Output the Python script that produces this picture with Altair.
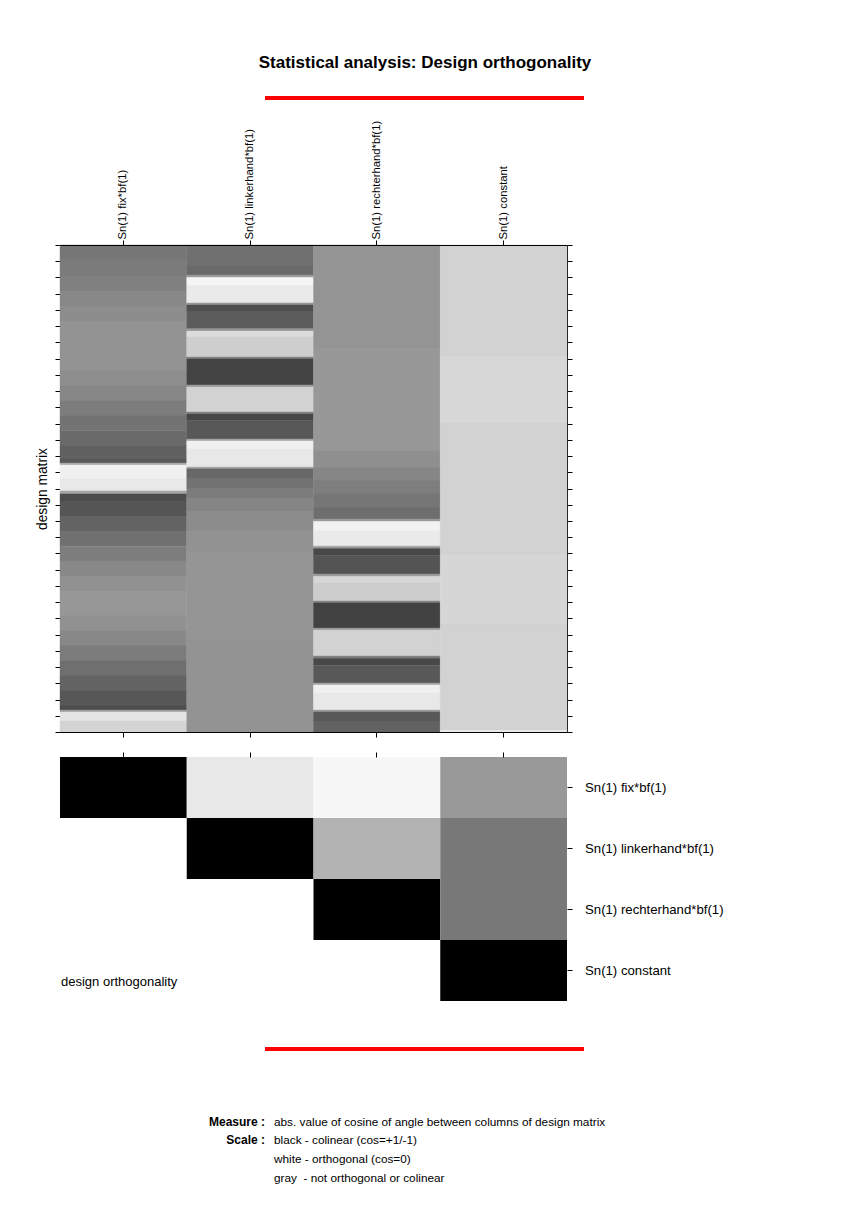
import altair as alt
import pandas as pd

FONT = "Liberation Sans, Arial"

title_text = "Statistical analysis: Design orthogonality"
columns = ["Sn(1) fix*bf(1)", "Sn(1) linkerhand*bf(1)",
           "Sn(1) rechterhand*bf(1)", "Sn(1) constant"]
n_scans = 180
scan_ticks = list(range(0, 181, 6))

# design matrix columns: run boundaries (scans) and gray levels (0-255)
fix_edges = [0, 5.2, 11.5, 17.0, 22.5, 28.1, 46.6, 52.1, 57.7, 63.2, 68.7, 74.3,
             79.1, 80.6, 81.3, 86.5, 90.9, 92.0, 94.6, 100.2, 105.7, 111.3, 116.8,
             122.3, 127.9, 137.1, 142.7, 148.2, 153.8, 159.3, 164.8, 170.4, 171.9,
             172.6, 175.9, 180]
fix_gray = [118, 123, 128, 136, 141, 147, 142, 135, 125, 115, 106, 97, 88, 170,
            240, 232, 165, 76, 85, 99, 112, 125, 136, 145, 151, 145, 136, 124, 111,
            99, 87, 77, 160, 228, 212]

link_edges = [0, 7.8, 11.1, 12.0, 15.0, 21.4, 22.2, 24.4, 31.0, 31.8, 34.0, 41.4,
              42.1, 51.7, 52.5, 61.7, 62.5, 65.0, 71.7, 72.4, 75.4, 82.1, 82.8, 86.1,
              89.8, 93.5, 98.3, 105.7, 113.1, 146.4, 180]
link_gray = [112, 106, 155, 245, 234, 150, 78, 92, 150, 220, 206, 130, 68, 155, 210,
             130, 70, 88, 165, 240, 232, 150, 104, 114, 124, 133, 140, 146, 149, 147]

rech_edges = [0, 38.1, 76.1, 82.4, 87.2, 92.0, 97.2, 101.3, 102.2, 105.7, 111.3,
              112.2, 114.9, 121.6, 122.5, 124.9, 131.6, 132.3, 141.6, 142.3, 151.9,
              152.7, 155.3, 161.9, 162.6, 165.6, 171.9, 172.6, 175.9, 180]
rech_gray = [148, 152, 143, 134, 126, 118, 110, 155, 242, 234, 150, 72, 84, 155, 215,
             205, 130, 66, 155, 210, 130, 72, 88, 165, 240, 232, 155, 88, 98]

const_edges = [0, 41.0, 65.8, 114.9, 140.1, 179.4, 180]
const_gray = [210, 215, 210, 214, 210, 236]

# orthogonality (abs. cosine) upper triangle
ortho_row = [0, 0, 0, 0, 1, 1, 1, 2, 2, 3]
ortho_col = [0, 1, 2, 3, 1, 2, 3, 2, 3, 3]
ortho_abs_cos = [1.0, 0.09, 0.03, 0.40, 1.0, 0.30, 0.53, 1.0, 0.53, 1.0]

measure_labels = ["Measure :", "Scale :"]
measure_lines = ["abs. value of cosine of angle between columns of design matrix",
                 "black - colinear (cos=+1/-1)",
                 "white - orthogonal (cos=0)",
                 "gray\u00a0 - not orthogonal or colinear"]
ortho_caption = "design orthogonality"

# ---- build tables
rows = []
for name, edges, grays in zip(columns,
                              [fix_edges, link_edges, rech_edges, const_edges],
                              [fix_gray, link_gray, rech_gray, const_gray]):
    for i, g in enumerate(grays):
        rows.append({"column": name, "y0": edges[i], "y1": edges[i + 1],
                     "color": "#%02x%02x%02x" % (g, g, g)})
dm = pd.DataFrame(rows)

od = pd.DataFrame({"row": [columns[i] for i in ortho_row],
                   "col": [columns[i] for i in ortho_col],
                   "abs_cos": ortho_abs_cos})

W, H = 507, 487
HB = 244

xscale = alt.Scale(domain=columns, paddingInner=0, paddingOuter=0)
yscale = alt.Scale(domain=[0, n_scans], reverse=True, nice=False, zero=False)

ax_common = dict(tickColor="black", domainColor="black", labelColor="black",
                 titleColor="black", grid=False, tickWidth=1, domainWidth=1)

rects = alt.Chart(dm).mark_rect(strokeWidth=0.4).encode(
    x=alt.X("column:N", scale=xscale, sort=columns,
            axis=alt.Axis(orient="top", title=None, labelAngle=270, labelAlign="left",
                          labelBaseline="middle", labelFont=FONT, labelFontSize=11.3,
                          labelPadding=1, tickSize=5, **ax_common)),
    y=alt.Y("y0:Q", scale=yscale,
            axis=alt.Axis(orient="left", title="design matrix", values=scan_ticks,
                          labels=False, tickSize=5, titleFont=FONT, titleFontSize=13.8,
                          titleFontWeight="normal", titlePadding=5, **ax_common)),
    y2="y1:Q",
    fill=alt.Fill("color:N", scale=None),
    stroke=alt.Stroke("color:N", scale=None),
)

frame = alt.Chart(dm).mark_rect(opacity=0).encode(
    x=alt.X("column:N", scale=xscale, sort=columns,
            axis=alt.Axis(orient="bottom", title=None, labels=False, tickSize=5,
                          **ax_common)),
    y=alt.Y("y0:Q", scale=yscale,
            axis=alt.Axis(orient="right", title=None, values=scan_ticks, labels=False,
                          tickSize=5, **ax_common)),
    y2="y1:Q",
)

one = alt.Data(values=[{"t": 0}])

title = alt.Chart(alt.Data(values=[{"t": title_text}])).mark_text(
    font=FONT, fontSize=17, fontWeight="bold", align="center", baseline="alphabetic",
    color="black").encode(text="t:N", x=alt.value(365), y=alt.value(-177))

red_top = alt.Chart(one).mark_rule(color="#ff0000", strokeWidth=4).encode(
    x=alt.value(205), x2=alt.value(524), y=alt.value(-147))

anchor_a = alt.Chart(one).mark_rule(color="white", strokeWidth=1).encode(
    x=alt.value(-58.5), x2=alt.value(-57.5), y=alt.value(-243.5))

panel_a = alt.layer(rects, frame, title, red_top, anchor_a).resolve_axis(
    x="independent", y="independent").properties(width=W, height=H)

cells = alt.Chart(od).mark_rect().encode(
    x=alt.X("col:N", scale=alt.Scale(domain=columns, paddingInner=0, paddingOuter=0),
            axis=alt.Axis(orient="top", title=None, labels=False, domain=False,
                          tickSize=5, tickColor="black")),
    y=alt.Y("row:N", scale=alt.Scale(domain=columns, paddingInner=0, paddingOuter=0),
            axis=alt.Axis(orient="right", title=None, domain=False, tickSize=5,
                          tickColor="black", labelFont=FONT, labelFontSize=13.2,
                          labelPadding=12.5, labelColor="black", labelLimit=300)),
    color=alt.Color("abs_cos:Q", legend=None,
                    scale=alt.Scale(domain=[0, 1], range=["#ffffff", "#000000"],
                                    interpolate="rgb")),
)

caption = alt.Chart(alt.Data(values=[{"t": ortho_caption}])).mark_text(
    font=FONT, fontSize=13, align="left", baseline="alphabetic", color="black"
).encode(text="t:N", x=alt.value(1), y=alt.value(228.5))

red_bot = alt.Chart(one).mark_rule(color="#ff0000", strokeWidth=4).encode(
    x=alt.value(205), x2=alt.value(524), y=alt.value(292))

anchor_b = alt.Chart(one).mark_rule(color="white", strokeWidth=1).encode(
    x=alt.value(-58.5), x2=alt.value(-57.5), y=alt.value(100))

layers_b = [cells, caption, red_bot, anchor_b]
base_y = [368.5, 387.3]
for lab, yy in zip(measure_labels, base_y):
    layers_b.append(alt.Chart(alt.Data(values=[{"t": lab}])).mark_text(
        font=FONT, fontSize=12, fontWeight="bold", align="right",
        baseline="alphabetic", color="black").encode(
        text="t:N", x=alt.value(205), y=alt.value(yy)))
line_y = [368.5, 387.3, 406.3, 425.3]
for txt, yy in zip(measure_lines, line_y):
    layers_b.append(alt.Chart(alt.Data(values=[{"t": txt}])).mark_text(
        font=FONT, fontSize=11.8, align="left", baseline="alphabetic",
        color="black").encode(text="t:N", x=alt.value(214), y=alt.value(yy)))

panel_b = alt.layer(*layers_b).properties(width=W, height=HB)

chart = alt.vconcat(panel_a, panel_b, spacing=13).properties(
    padding=0, background="white").configure_view(stroke="transparent")

chart.save("out.html", embed_options={"renderer": "svg", "actions": False})
